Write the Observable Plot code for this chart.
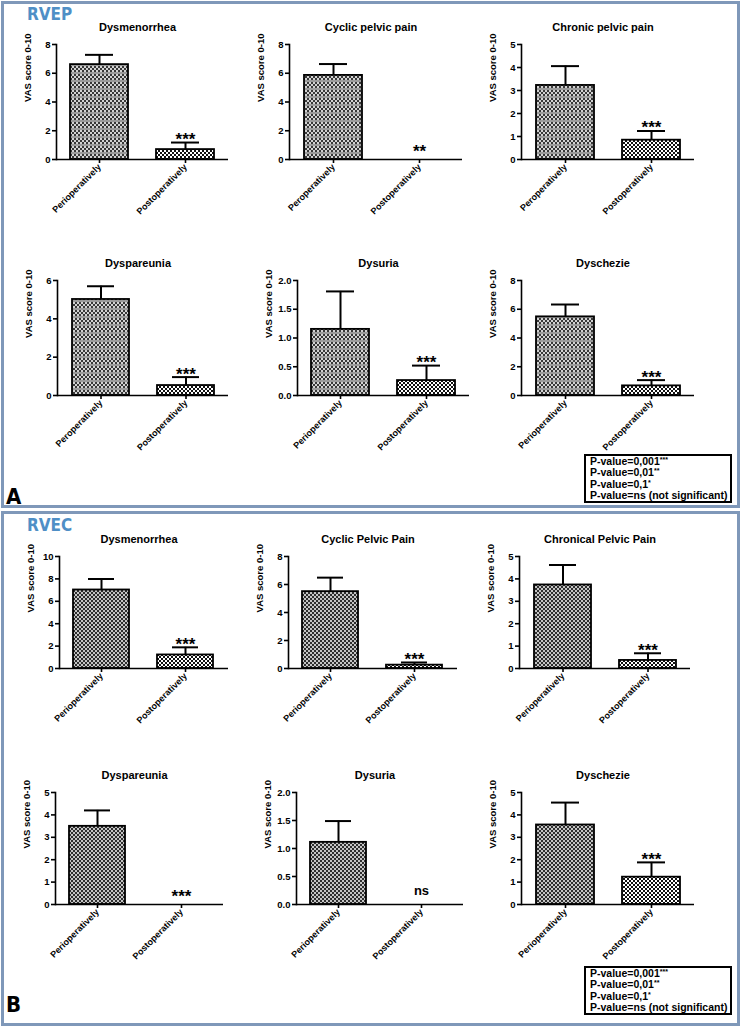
<!DOCTYPE html>
<html>
<head>
<meta charset="utf-8">
<script src="https://cdn.jsdelivr.net/npm/d3@7"></script>
<script src="https://cdn.jsdelivr.net/npm/@observablehq/plot@0.6"></script>
<style>
  html, body { margin: 0; padding: 0; background: #fff; }
  #root { position: relative; width: 741px; height: 1027px; overflow: hidden; font-family: "Liberation Sans", Arial, sans-serif; }
  .panelbox { position: absolute; box-sizing: border-box; border: 3px solid #7f98b9; }
  .tag { position: absolute; font-family: "Liberation Sans Narrow", "DejaVu Sans Condensed", "Liberation Sans", sans-serif; font-weight: bold; line-height: 1; white-space: nowrap; }
  .chart { position: absolute; }
  .legend { position: absolute; box-sizing: border-box; border: 2px solid #000; background: #fff; font-weight: bold; font-size: 10.5px; line-height: 11.3px; padding: 0 2px 0 4px; white-space: nowrap; }
  .legend sup { font-size: 7px; vertical-align: 3px; line-height: 0; }
</style>
</head>
<body>
<svg width="0" height="0" style="position:absolute">
  <defs>
    <pattern id="periA" width="4" height="8" patternUnits="userSpaceOnUse">
      <rect width="4" height="8" fill="#d2d2d2"/>
      <rect x="0" y="0" width="2" height="2" fill="#383838"/>
      <rect x="2" y="2" width="2" height="2" fill="#383838"/>
      <rect x="0" y="4" width="2" height="2" fill="#383838"/>
      <rect x="0" y="6" width="4" height="2" fill="#9a9a9a"/>
    </pattern>
    <pattern id="periB" width="4" height="4" patternUnits="userSpaceOnUse">
      <rect width="4" height="4" fill="#c4c4c4"/>
      <rect x="0" y="0" width="2" height="2" fill="#2e2e2e"/>
      <rect x="2" y="2" width="2" height="2" fill="#2e2e2e"/>
    </pattern>
    <pattern id="post" width="4" height="4" patternUnits="userSpaceOnUse">
      <rect width="4" height="4" fill="#ffffff"/>
      <rect x="0" y="0" width="2" height="2" fill="#111111"/>
      <rect x="2" y="2" width="2" height="2" fill="#111111"/>
    </pattern>
  </defs>
</svg>
<div id="root"></div>
<script>
// ---------------- DATA ----------------
const panelNames = ["RVEP", "RVEC"];
const panelLetters = ["A", "B"];
const yLabel = "VAS score 0-10";
const postLabel = "Postoperatively";

// Panel A (RVEP)
const titlesA = ["Dysmenorrhea", "Cyclic pelvic pain", "Chronic pelvic pain", "Dyspareunia", "Dysuria", "Dyschezie"];
const periLabelsA = ["Perioperatively", "Peroperatively", "Peroperatively", "Peroperatively", "Perioperatively", "Perioperatively"];
const periMeanA = [6.60, 5.85, 3.22, 5.01, 1.15, 5.47];
const periErrA  = [0.68, 0.79, 0.84, 0.69, 0.66, 0.86];
const postMeanA = [0.69, 0.00, 0.84, 0.52, 0.26, 0.67];
const postErrA  = [0.49, 0.00, 0.40, 0.44, 0.26, 0.40];
const sigA      = ["***", "**", "***", "***", "***", "***"];
const yMaxA     = [8, 8, 5, 6, 2, 8];
const yStepA    = [2, 2, 1, 2, 0.5, 2];

// Panel B (RVEC)
const titlesB = ["Dysmenorrhea", "Cyclic Pelvic Pain", "Chronical Pelvic Pain", "Dyspareunia", "Dysuria", "Dyschezie"];
const periLabelsB = ["Perioperatively", "Perioperatively", "Perioperatively", "Perioperatively", "Perioperatively", "Perioperatively"];
const periMeanB = [7.01, 5.49, 3.73, 3.49, 1.11, 3.55];
const periErrB  = [0.98, 1.00, 0.89, 0.71, 0.38, 1.00];
const postMeanB = [1.21, 0.24, 0.36, 0.00, 0.00, 1.22];
const postErrB  = [0.68, 0.19, 0.32, 0.00, 0.00, 0.66];
const sigB      = ["***", "***", "***", "***", "ns", "***"];
const yMaxB     = [10, 8, 5, 5, 2, 5];
const yStepB    = [2, 2, 1, 1, 0.5, 1];

const legendLines = [["P-value=0,001", "***"], ["P-value=0,01", "**"], ["P-value=0,1", "*"], ["P-value=ns (not significant)", ""]];

// ---------------- LAYOUT ----------------
const ML = 46, MR = 10, MT = 34, MB = 72;
const PAD_IN = 0.33, PAD_OUT = 0.165;
const layout = [
  { box: [1, 1, 739, 507], tag: [27, 20, 17], letter: [6, 505, 22], legend: [584, 454, 148, 49],
    left: [56, 289, 521, 57, 297, 521], right: [228, 462, 694, 228, 469, 694], top: [44, 280], bottom: [159, 395], periFill: "url(#periA)" },
  { box: [1, 511, 739, 515], tag: [27, 531, 17], letter: [6, 1013, 22], legend: [584, 966, 148, 49],
    left: [59, 288, 519, 55, 296, 521], right: [228, 457, 690, 223, 463, 694], top: [556, 792], bottom: [668, 904], periFill: "url(#periB)" }
];
const panels = [
  { titles: titlesA, periLabels: periLabelsA, periMean: periMeanA, periErr: periErrA, postMean: postMeanA, postErr: postErrA, sig: sigA, yMax: yMaxA, yStep: yStepA },
  { titles: titlesB, periLabels: periLabelsB, periMean: periMeanB, periErr: periErrB, postMean: postMeanB, postErr: postErrB, sig: sigB, yMax: yMaxB, yStep: yStepB }
];

const root = document.getElementById("root");

function chart(p, i, L) {
  const labels = [p.periLabels[i], postLabel];
  const data = [
    { g: labels[0], v: p.periMean[i], e: p.periErr[i], s: "" },
    { g: labels[1], v: p.postMean[i], e: p.postErr[i], s: p.sig[i] }
  ];
  const w = L.right[i] - L.left[i];
  const row = i < 3 ? 0 : 1;
  const h = L.bottom[row] - L.top[row];
  const step = p.yStep[i];
  const ticks = d3.range(0, p.yMax[i] + 1e-9, step);
  const fmt = step < 1 ? d3.format(".1f") : d3.format("d");
  const withErr = data.filter(d => d.e > 0);
  const starsTop = data.filter(d => d.s && d.s !== "ns" && d.v + d.e > 0);
  const starsZero = data.filter(d => d.s && d.s !== "ns" && d.v + d.e === 0);
  const ns = data.filter(d => d.s === "ns");
  const svg = Plot.plot({
    width: ML + w + MR, height: MT + h + MB,
    marginLeft: ML, marginRight: MR, marginTop: MT, marginBottom: MB,
    style: { fontFamily: "'Liberation Sans', Arial, sans-serif", fontSize: "9px", color: "#000", background: "none", overflow: "visible" },
    x: { domain: labels, paddingInner: PAD_IN, paddingOuter: PAD_OUT },
    y: { domain: [0, p.yMax[i]] },
    marks: [
      Plot.barY(data.filter((d, j) => j === 0 && d.v > 0), { x: "g", y: "v", fill: L.periFill, stroke: "#000", strokeWidth: 1.8 }),
      Plot.barY(data.filter((d, j) => j === 1 && d.v > 0), { x: "g", y: "v", fill: "url(#post)", stroke: "#000", strokeWidth: 1.8 }),
      Plot.ruleX(withErr, { x: "g", y1: "v", y2: d => d.v + d.e, stroke: "#000", strokeWidth: 2 }),
      Plot.tickY(withErr, { x: "g", y: d => d.v + d.e, stroke: "#000", strokeWidth: 2, insetLeft: 15, insetRight: 15 }),
      Plot.frame({ anchor: "left", stroke: "#000", strokeWidth: 1.6 }),
      Plot.ruleY([0], { stroke: "#000", strokeWidth: 1.6 }),
      Plot.axisY({ ticks, tickFormat: fmt, tickSize: 4, tickPadding: 2, fontSize: 9.5, fontWeight: "bold", label: null, strokeWidth: 1.6 }),
      Plot.axisX({ tickSize: 4, tickPadding: 2, tickRotate: -45, fontSize: 9, fontWeight: "bold", label: null, strokeWidth: 1.6 }),
      Plot.text([p.titles[i]], { frameAnchor: "top", dy: -17, dx: -5, fontSize: 11, fontWeight: "bold", lineAnchor: "middle" }),
      Plot.text([yLabel], { frameAnchor: "left", dx: -29, rotate: -90, fontSize: 9.5, fontWeight: "bold", lineAnchor: "middle" }),
      Plot.text(starsTop, { x: "g", y: d => d.v + d.e, text: "s", dy: -3, fontSize: 17, fontWeight: "bold", lineAnchor: "middle" }),
      Plot.text(starsZero, { x: "g", y: d => d.v + d.e, text: "s", dy: -8, fontSize: 17, fontWeight: "bold", lineAnchor: "middle" }),
      Plot.text(ns, { x: "g", y: d => d.v + d.e, text: "s", dy: -13.5, fontSize: 13, fontWeight: "bold", lineAnchor: "middle" })
    ]
  });
  svg.classList.add("chart");
  svg.style.left = (L.left[i] - ML) + "px";
  svg.style.top = (L.top[row] - MT) + "px";
  return svg;
}

panels.forEach((p, k) => {
  const L = layout[k];
  const box = document.createElement("div");
  box.className = "panelbox";
  Object.assign(box.style, { left: L.box[0] + "px", top: L.box[1] + "px", width: L.box[2] + "px", height: L.box[3] + "px" });
  root.appendChild(box);

  const tag = document.createElement("div");
  tag.className = "tag";
  tag.textContent = panelNames[k];
  Object.assign(tag.style, { left: L.tag[0] + "px", top: (L.tag[1] - 0.85 * L.tag[2]) + "px", fontSize: L.tag[2] + "px", color: "#4f8fc6" });
  root.appendChild(tag);

  const letter = document.createElement("div");
  letter.className = "tag";
  letter.textContent = panelLetters[k];
  Object.assign(letter.style, { left: L.letter[0] + "px", top: (L.letter[1] - 0.85 * L.letter[2]) + "px", fontSize: L.letter[2] + "px", color: "#000" });
  root.appendChild(letter);

  for (let i = 0; i < 6; i++) root.appendChild(chart(p, i, L));

  const lg = document.createElement("div");
  lg.className = "legend";
  Object.assign(lg.style, { left: L.legend[0] + "px", top: L.legend[1] + "px", width: L.legend[2] + "px", height: L.legend[3] + "px" });
  lg.innerHTML = legendLines.map(([t, s]) => t + (s ? "<sup>" + s + "</sup>" : "")).join("<br>");
  root.appendChild(lg);
});
</script>
</body>
</html>
